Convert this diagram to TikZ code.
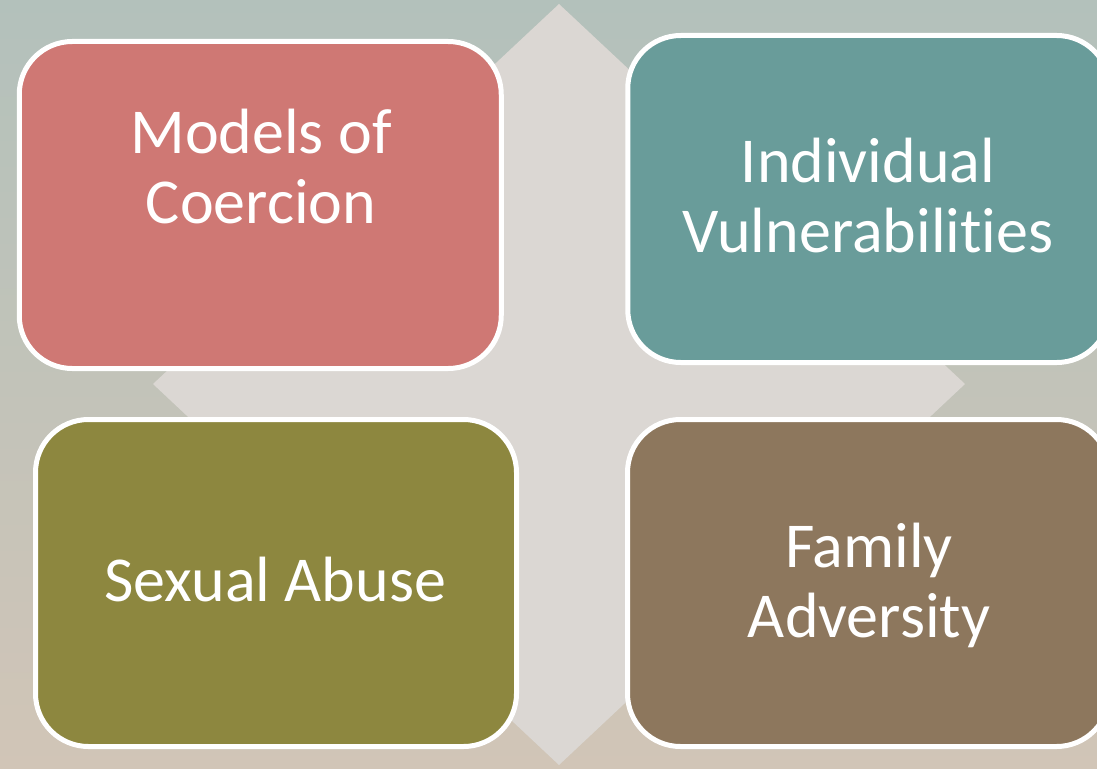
\documentclass[tikz,border=0pt]{standalone}
\usepackage{fontspec}
\setmainfont{Carlito}[Ligatures={NoCommon}]
\definecolor{bgtop}{RGB}{179,193,187}
\definecolor{bgmid}{RGB}{196,195,184}
\definecolor{bgbot}{RGB}{209,197,183}
\definecolor{diam}{RGB}{219,215,211}
\definecolor{cRed}{RGB}{207,120,116}
\definecolor{cTeal}{RGB}{105,156,154}
\definecolor{cOlive}{RGB}{141,135,63}
\definecolor{cBrown}{RGB}{141,119,93}
\tikzset{
  card/.style={draw=white, line width=5pt, rounded corners=53pt, inner sep=0pt,
    minimum width=482pt, minimum height=327pt},
  lbl/.style={text=white, font=\fontsize{64}{70}\selectfont, align=center, inner sep=0pt, anchor=base}
}
\begin{document}
\begin{tikzpicture}[x=1pt,y=-1pt]
\useasboundingbox (0,0) rectangle (1097,768);
\shade[top color=bgtop, middle color=bgmid, bottom color=bgbot] (0,0) rectangle (1097,768);
\fill[diam] (559,4) -- (965,384) -- (559,765) -- (153,384) -- cycle;
\node[card, fill=cRed] (b1) at (260.25,205) {};
\node[card, fill=cTeal] (b2) at (868.75,199) {};
\node[card, fill=cOlive, minimum width=481pt] (b3) at (276,583) {};
\node[card, fill=cBrown] (b4) at (868.5,583) {};
\node[lbl] (t1) at (261,223) {Models of\\Coercion};
\node[lbl] (t2) at (868,252) {Individual\\Vulnerabilities};
\node[lbl] (t3) at (275,601) {Sexual Abuse};
\node[lbl] (t4) at (869,637) {Family\\Adversity};
\end{tikzpicture}
\end{document}
